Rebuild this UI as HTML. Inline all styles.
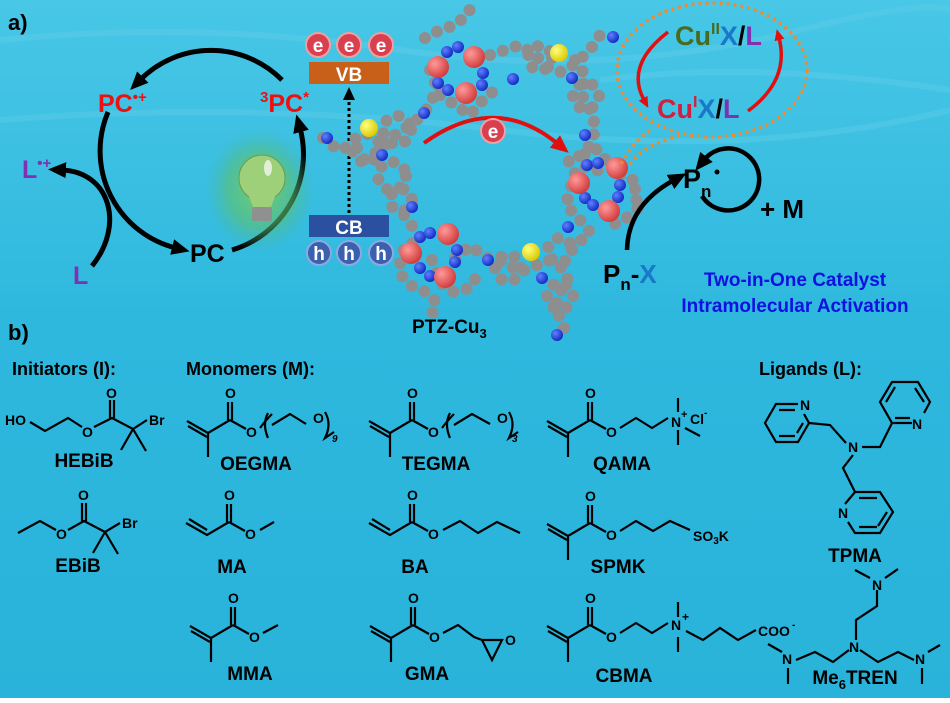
<!DOCTYPE html>
<html><head><meta charset="utf-8"><style>
html,body{margin:0;padding:0;}
body{width:950px;height:698px;overflow:hidden;font-family:"Liberation Sans",Arial,sans-serif;}
svg text{font-family:"Liberation Sans",Arial,sans-serif;font-weight:bold;}
</style></head><body>
<svg width="950" height="698" viewBox="0 0 950 698" xmlns="http://www.w3.org/2000/svg">
<defs>
<linearGradient id="bg" x1="0" y1="0" x2="0" y2="1">
<stop offset="0" stop-color="#48c7e6"/><stop offset="0.45" stop-color="#2fb8de"/><stop offset="1" stop-color="#29b3da"/>
</linearGradient>
<radialGradient id="glow" cx="0.5" cy="0.5" r="0.5">
<stop offset="0" stop-color="#7cd060" stop-opacity="0.9"/><stop offset="0.6" stop-color="#5cc070" stop-opacity="0.6"/><stop offset="1" stop-color="#40b8a0" stop-opacity="0"/>
</radialGradient>
<radialGradient id="gb" cx="0.35" cy="0.35" r="0.7"><stop offset="0" stop-color="#d0d0d0"/><stop offset="1" stop-color="#7a7a7a"/></radialGradient>
<radialGradient id="rb" cx="0.35" cy="0.35" r="0.7"><stop offset="0" stop-color="#ff9a9a"/><stop offset="1" stop-color="#d03838"/></radialGradient>
<radialGradient id="bb" cx="0.35" cy="0.35" r="0.7"><stop offset="0" stop-color="#6080ff"/><stop offset="1" stop-color="#1028c0"/></radialGradient>
<radialGradient id="yb" cx="0.35" cy="0.35" r="0.7"><stop offset="0" stop-color="#ffff80"/><stop offset="1" stop-color="#d8c800"/></radialGradient>
<marker id="ak" markerUnits="userSpaceOnUse" markerWidth="20" markerHeight="20" refX="4" refY="10" orient="auto"><path d="M0,2 L18,10 L0,18 z" fill="#000"/></marker>
<marker id="akS" markerUnits="userSpaceOnUse" markerWidth="14" markerHeight="14" refX="2" refY="7" orient="auto"><path d="M0,1 L13,7 L0,13 z" fill="#000"/></marker>
<marker id="ar" markerUnits="userSpaceOnUse" markerWidth="20" markerHeight="20" refX="4" refY="10" orient="auto"><path d="M0,2 L18,10 L0,18 z" fill="#e01010"/></marker>
<marker id="arS" markerUnits="userSpaceOnUse" markerWidth="12" markerHeight="12" refX="2" refY="6" orient="auto"><path d="M0,1 L11,6 L0,11 z" fill="#e01010"/></marker>
</defs>
<rect width="950" height="698" fill="url(#bg)"/>
<g stroke="#5ccbe8" stroke-width="6" fill="none" opacity="0.5">
<path d="M0,40 Q200,20 400,50 T800,30 T950,40"/><path d="M0,120 Q250,100 500,130 T950,110"/><path d="M600,80 Q750,60 950,90"/>
</g>

<!-- part a -->
<text x="8" y="30" font-size="22">a)</text>
<g fill="none" stroke="#000" stroke-width="5">
<path d="M282,80 A100,100 0 0 0 140,80" marker-end="url(#ak)"/>
<path d="M108,112 A100,100 0 0 0 176,248" marker-end="url(#ak)"/>
<path d="M232,250 A100,100 0 0 0 300,128" marker-end="url(#ak)"/>
<path d="M92,266 C125,225 110,172 62,170" marker-end="url(#ak)"/>
</g>
<text x="98" y="112" font-size="25" fill="#ee1010">PC<tspan font-size="15" dy="-10">•+</tspan></text>
<text x="260" y="112" font-size="25" fill="#ee1010"><tspan font-size="15" dy="-10">3</tspan><tspan dy="10">PC</tspan><tspan font-size="15" dy="-10">*</tspan></text>
<text x="190" y="262" font-size="25" fill="#000">PC</text>
<text x="22" y="178" font-size="25" fill="#8030b0">L<tspan font-size="15" dy="-10">•+</tspan></text>
<text x="73" y="284" font-size="25" fill="#8030b0">L</text>
<!-- bulb -->
<ellipse cx="260" cy="190" rx="55" ry="62" fill="url(#glow)"/>
<circle cx="262" cy="178" r="23" fill="#9ed07a" stroke="#6a9a50" stroke-width="1"/>
<path d="M248,194 L276,194 L271,207 L253,207 z" fill="#9ed07a"/>
<rect x="252" y="207" width="20" height="14" rx="2" fill="#909090"/>
<ellipse cx="268" cy="168" rx="4" ry="8" fill="#e0f0d8"/>
<!-- VB CB -->
<g font-size="19" text-anchor="middle" fill="#fff">
<circle cx="318" cy="45" r="12" fill="#d84050" stroke="#f0a0a0" stroke-width="2"/><text x="318" y="52">e</text>
<circle cx="349" cy="45" r="12" fill="#d84050" stroke="#f0a0a0" stroke-width="2"/><text x="349" y="52">e</text>
<circle cx="381" cy="45" r="12" fill="#d84050" stroke="#f0a0a0" stroke-width="2"/><text x="381" y="52">e</text>
<rect x="309" y="62" width="80" height="22" fill="#c8601a"/><text x="349" y="81">VB</text>
<rect x="309" y="215" width="80" height="22" fill="#2c50a0"/><text x="349" y="234">CB</text>
<circle cx="319" cy="253" r="12" fill="#3c60b0" stroke="#90a8e0" stroke-width="2"/><text x="319" y="260">h</text>
<circle cx="349" cy="253" r="12" fill="#3c60b0" stroke="#90a8e0" stroke-width="2"/><text x="349" y="260">h</text>
<circle cx="381" cy="253" r="12" fill="#3c60b0" stroke="#90a8e0" stroke-width="2"/><text x="381" y="260">h</text>
</g>
<line x1="349" y1="213" x2="349" y2="98" stroke="#000" stroke-width="3" stroke-dasharray="3 3" marker-end="url(#akS)"/>

<!-- molecule gray chains -->
<g fill="none" stroke="#8e8e8e" stroke-width="12" stroke-linecap="round" stroke-dasharray="0 13.5">
<path d="M323,138 L338,150 L355,145 L365,160 L380,150 L395,135 L410,125 L423,115 L432,100 L440,80"/>
<circle cx="366" cy="148" r="14"/><circle cx="397" cy="130" r="14"/><circle cx="392" cy="176" r="14"/><circle cx="401" cy="200" r="11"/>
<path d="M404,215 L412,226 L422,240 L405,245 L400,262 L402,276 L412,286 L426,292 L436,302 L432,314"/>
<path d="M455,258 L470,246 L488,258 L505,262 L520,272 L535,266 L548,260 L562,268 L568,280 L560,292 L556,306 L560,320 L566,332"/>
<circle cx="508" cy="268" r="13"/><circle cx="560" cy="250" r="12"/><circle cx="560" cy="296" r="13"/>
<path d="M575,60 L585,75 L582,95 L590,110 L596,128 L590,145 L582,155 L568,160 L575,172 L570,190 L566,205 L580,220 L590,232 L576,245 L568,255"/>
<circle cx="586" cy="96" r="13"/><circle cx="594" cy="160" r="11"/>
<path d="M425,38 L440,30 L455,25 L468,14 L472,4"/>
<path d="M490,55 L505,50 L520,45 L535,55 L546,66 L560,72 L575,64 L590,50 L600,35"/>
<circle cx="540" cy="58" r="12"/>
<path d="M430,70 L440,95 L455,105 L470,115 L483,100 L495,90"/>
<path d="M620,175 L638,182 L632,196 L642,205 L624,220 L612,225"/>
<path d="M432,260 L440,282 L452,292 L470,288 L480,270"/>
</g>
<g fill="url(#bb)">
<circle cx="327" cy="138" r="6"/><circle cx="382" cy="155" r="6"/><circle cx="412" cy="207" r="6"/><circle cx="420" cy="237" r="6"/><circle cx="430" cy="233" r="6"/><circle cx="457" cy="250" r="6"/><circle cx="455" cy="262" r="6"/><circle cx="420" cy="268" r="6"/><circle cx="430" cy="276" r="6"/><circle cx="488" cy="260" r="6"/><circle cx="542" cy="278" r="6"/><circle cx="568" cy="227" r="6"/><circle cx="557" cy="335" r="6"/><circle cx="587" cy="165" r="6"/><circle cx="598" cy="163" r="6"/><circle cx="620" cy="185" r="6"/><circle cx="618" cy="197" r="6"/><circle cx="585" cy="198" r="6"/><circle cx="593" cy="205" r="6"/><circle cx="585" cy="135" r="6"/><circle cx="572" cy="78" r="6"/><circle cx="513" cy="79" r="6"/><circle cx="483" cy="73" r="6"/><circle cx="482" cy="85" r="6"/><circle cx="447" cy="52" r="6"/><circle cx="458" cy="47" r="6"/><circle cx="438" cy="83" r="6"/><circle cx="448" cy="90" r="6"/><circle cx="424" cy="113" r="6"/><circle cx="613" cy="37" r="6"/>
</g>
<g fill="url(#rb)">
<circle cx="438" cy="67" r="11"/><circle cx="474" cy="57" r="11"/><circle cx="466" cy="93" r="11"/><circle cx="579" cy="183" r="11"/><circle cx="617" cy="168" r="11"/><circle cx="609" cy="211" r="11"/><circle cx="448" cy="234" r="11"/><circle cx="411" cy="253" r="11"/><circle cx="445" cy="277" r="11"/>
</g>
<g fill="url(#yb)"><circle cx="369" cy="128" r="9"/><circle cx="559" cy="53" r="9"/><circle cx="531" cy="252" r="9"/></g>
<text x="412" y="333" font-size="19">PTZ-Cu<tspan font-size="13" dy="5">3</tspan></text>
<!-- red e arrow -->
<path d="M424,143 Q495,92 558,144" fill="none" stroke="#e01010" stroke-width="4" marker-end="url(#ar)"/>
<circle cx="493" cy="131" r="12" fill="#d84050" stroke="#f0a0a0" stroke-width="2"/><text x="493" y="138" font-size="19" fill="#fff" text-anchor="middle">e</text>

<!-- Cu cycle -->
<g fill="none" stroke="#f08a30" stroke-width="3.5" stroke-dasharray="3 4">
<ellipse cx="712" cy="70" rx="95" ry="67"/>
<path d="M650,130 Q630,145 620,166"/><path d="M680,136 Q640,145 628,168"/>
</g>
<text x="675" y="45" font-size="27"><tspan fill="#4a6a1e">Cu</tspan><tspan fill="#4a6a1e" font-size="16" dy="-11">II</tspan><tspan fill="#1a78c8" dy="11">X</tspan><tspan fill="#000">/</tspan><tspan fill="#8030b0">L</tspan></text>
<text x="657" y="118" font-size="27"><tspan fill="#d02040">Cu</tspan><tspan fill="#d02040" font-size="16" dy="-11">I</tspan><tspan fill="#1a78c8" dy="11">X</tspan><tspan fill="#000">/</tspan><tspan fill="#8030b0">L</tspan></text>
<path d="M668,32 Q625,65 644,100" fill="none" stroke="#e01010" stroke-width="3.5" marker-end="url(#arS)"/>
<path d="M748,111 Q790,80 779,38" fill="none" stroke="#e01010" stroke-width="3.5" marker-end="url(#arS)"/>
<!-- Pn -->
<text x="683" y="188" font-size="27">P<tspan font-size="17" dy="9">n</tspan></text>
<circle cx="717" cy="172" r="2.5" fill="#000"/>
<path d="M702,196 A31,31 0 1 0 704,160" fill="none" stroke="#000" stroke-width="4.5" marker-end="url(#ak)"/>
<text x="760" y="218" font-size="26">+ M</text>
<text x="603" y="283" font-size="26">P<tspan font-size="17" dy="7">n</tspan><tspan dy="-7">-</tspan><tspan fill="#1a78c8">X</tspan></text>
<path d="M627,250 Q628,205 674,180" fill="none" stroke="#000" stroke-width="4.5" marker-end="url(#ak)"/>
<text x="795" y="286" font-size="19" fill="#1010e0" text-anchor="middle">Two-in-One Catalyst</text>
<text x="795" y="312" font-size="19" fill="#1010e0" text-anchor="middle">Intramolecular Activation</text>

<!-- part b -->
<text x="8" y="340" font-size="22">b)</text>
<text x="12" y="375" font-size="18">Initiators (I):</text>
<text x="186" y="375" font-size="18">Monomers (M):</text>
<text x="759" y="375" font-size="18">Ligands (L):</text>

<g fill="none" stroke="#000" stroke-width="2.2">
<!-- HEBiB -->
<path d="M30,422 L45,431 L68,418 L82,427"/><path d="M94,427 L112,418 L133,429 L147,420"/>
<path d="M110,418 V400 M114,418 V400"/><path d="M133,429 L146,451 M133,429 L121,450"/>
<!-- EBiB -->
<path d="M18,533 L40,521 L56,530"/><path d="M68,530 L84,521 L105,532 L120,523"/>
<path d="M82,521 V503 M86,521 V503"/><path d="M105,532 L118,554 M105,532 L93,553"/>
</g>
<g font-size="14" font-weight="normal">
<text x="5" y="425" font-weight="bold">HO</text><text x="82" y="437">O</text><text x="106" y="398">O</text><text x="149" y="425">Br</text>
<text x="56" y="539">O</text><text x="78" y="500">O</text><text x="122" y="528">Br</text>
</g>
<g font-size="19" text-anchor="middle">
<text x="84" y="467">HEBiB</text><text x="78" y="572">EBiB</text>
<text x="256" y="470">OEGMA</text><text x="436" y="470">TEGMA</text><text x="622" y="470">QAMA</text>
<text x="232" y="573">MA</text><text x="415" y="573">BA</text><text x="618" y="573">SPMK</text>
<text x="250" y="680">MMA</text><text x="427" y="680">GMA</text><text x="624" y="682">CBMA</text>
<text x="855" y="562">TPMA</text><text x="855" y="684">Me<tspan font-size="13" dy="5">6</tspan><tspan dy="-5">TREN</tspan></text>
</g>

<defs>
<g id="mac" fill="none" stroke="#000" stroke-width="2.2">
<path d="M0,0 L-22,13 M-22,13 V37"/><path d="M-22,13 L-43,1 M-23,17 L-42,6"/>
<path d="M-2,0 V-18 M2,0 V-18"/><path d="M0,0 L16,9"/>
</g>
<g id="acr" fill="none" stroke="#000" stroke-width="2.2">
<path d="M0,0 L-22,13 L-43,1 M-22,8 L-40,-3"/>
<path d="M-2,0 V-18 M2,0 V-18"/><path d="M0,0 L16,9"/>
</g>
</defs>
<g font-size="14" font-weight="normal">
<use href="#mac" x="230" y="420"/><text x="225" y="398">O</text><text x="246" y="437">O</text>
<use href="#mac" x="412" y="420"/><text x="407" y="398">O</text><text x="428" y="437">O</text>
<use href="#mac" x="590" y="420"/><text x="585" y="398">O</text><text x="606" y="437">O</text>
<use href="#acr" x="229" y="522"/><text x="224" y="500">O</text><text x="245" y="539">O</text>
<use href="#acr" x="412" y="522"/><text x="407" y="500">O</text><text x="428" y="539">O</text>
<use href="#mac" x="590" y="523"/><text x="585" y="501">O</text><text x="606" y="540">O</text>
<use href="#mac" x="233" y="625"/><text x="228" y="603">O</text><text x="249" y="642">O</text>
<use href="#mac" x="413" y="625"/><text x="408" y="603">O</text><text x="429" y="642">O</text>
<use href="#mac" x="590" y="625"/><text x="585" y="603">O</text><text x="606" y="642">O</text>
<text x="313" y="423">O</text><text x="497" y="423">O</text>
<text x="332" y="442" font-size="10" font-style="italic" font-family="Liberation Serif">9</text>
<text x="512" y="442" font-size="10" font-style="italic" font-family="Liberation Serif">3</text>
<text x="671" y="427">N</text><text x="681" y="418" font-size="11">+</text><text x="690" y="424">Cl</text><text x="704" y="416" font-size="10">-</text>
<text x="693" y="541">SO<tspan font-size="10" dy="3">3</tspan><tspan dy="-3">K</tspan></text>
<text x="505" y="645">O</text>
<text x="671" y="630">N</text><text x="682" y="621" font-size="12">+</text>
<text x="758" y="636">COO</text><text x="792" y="628" font-size="10">-</text>
</g>
<g fill="none" stroke="#000" stroke-width="2.2">
<path d="M260,428 Q266,420 272,414"/><path d="M268,413 Q262,424 268,438"/>
<path d="M272,425 L290,414 L306,424"/><path d="M325,412 Q332,424 325,438 L334,432"/>
<path d="M442,428 Q448,420 454,414"/><path d="M450,413 Q444,424 450,438"/>
<path d="M454,425 L472,414 L490,424"/><path d="M509,412 Q516,424 509,438 L518,432"/>
<path d="M620,428 L636,418 L652,428 L668,418"/><path d="M678,398 V412 M678,430 V445 M685,428 L700,436"/>
<path d="M260,530 L274,522"/>
<path d="M443,530 L460,521 L478,533 L497,522 L520,533"/>
<path d="M620,531 L636,521 L653,531 L670,521 L690,530"/>
<path d="M263,633 L278,625"/>
<path d="M443,633 L458,625 L474,637 L482,640 L492,660 L502,640 L482,640"/>
<path d="M620,633 L636,623 L652,633 L668,623"/><path d="M678,602 V617 M678,637 V652"/>
<path d="M686,631 L703,640 L720,628 L738,640 L756,630"/>
<!-- TPMA -->
<path d="M798,404 L776,404 L765,423 L776,442 L798,442 L809,423 L804,414"/>
<path d="M779,410 L795,410 M779,436 L795,436 M803,423 L797,433"/>
<path d="M809,423 L830,425 L846,443"/><path d="M862,447 L880,447 L892,423"/>
<path d="M892,423 L880,402 L892,382 L918,382 L930,402 L924,413 M912,423 L892,423"/>
<path d="M886,402 L895,387 M915,388 L924,402 M895,418 L910,418"/>
<path d="M853,455 L843,468 L855,492"/>
<path d="M855,492 L880,492 L893,512 L880,533 L855,533 L848,522 M845,504 L855,492"/>
<path d="M859,498 L877,498 M859,527 L877,527 M887,512 L878,526"/>
<!-- Me6TREN -->
<path d="M855,570 L870,578 M885,578 L898,569 M877,590 V606 L856,620 V640"/>
<path d="M849,650 L833,662 L815,652 L796,660"/><path d="M860,650 L878,662 L898,652 L914,660"/>
<path d="M782,652 L768,644 M788,668 V684 M928,652 L940,645 M922,668 V684"/>
</g>
<g font-size="14" font-weight="normal">
<text x="800" y="410">N</text><text x="912" y="429">N</text><text x="838" y="518">N</text><text x="848" y="452">N</text>
<text x="872" y="590">N</text><text x="849" y="652">N</text><text x="782" y="664">N</text><text x="915" y="664">N</text>
</g>
</svg>
</body></html>
